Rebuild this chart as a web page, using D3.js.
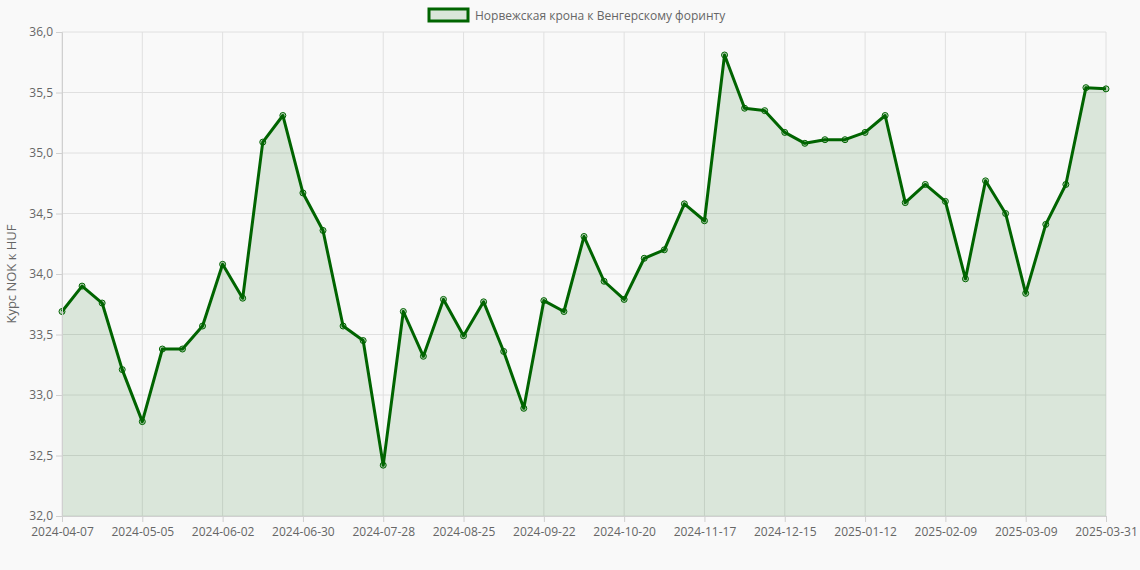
<!DOCTYPE html>
<html><head><meta charset="utf-8">
<script src="https://cdn.jsdelivr.net/npm/d3@7"></script>
<style>body{margin:0;background:#f9f9f9;font-family:"Open Sans","Liberation Sans",Arial,sans-serif}</style>
</head><body><svg id="c" width="1140" height="570"></svg>
<script>
const startDate = "2024-04-07";
const lastDate = "2025-03-31";
const values = [33.69,33.90,33.76,33.21,32.78,33.38,33.38,33.57,34.08,33.80,35.09,35.31,34.67,34.36,33.57,33.45,32.42,33.69,33.32,33.79,33.49,33.77,33.36,32.89,33.78,33.69,34.31,33.94,33.79,34.13,34.20,34.58,34.44,35.81,35.37,35.35,35.17,35.08,35.11,35.11,35.17,35.31,34.59,34.74,34.60,33.96,34.77,34.50,33.84,34.41,34.74,35.54,35.53];
const yTicks = [32,32.5,33,33.5,34,34.5,35,35.5,36];
const seriesName = "Норвежская крона к Венгерскому форинту";
const yTitle = "Курс NOK к HUF";

const fmt = d3.timeFormat("%Y-%m-%d");
const s = d3.timeParse("%Y-%m-%d")(startDate);
const dates = values.map((v,i)=> i===values.length-1 ? lastDate : fmt(d3.timeDay.offset(s,7*i)));

const svg = d3.select("#c");
const L=62,R=1106,T=32,B=516;
const x = d3.scalePoint().domain(dates).range([L,R]);
const y = d3.scaleLinear().domain([32,36]).range([B,T]);
const tickDates = dates.filter((d,i)=> i%4===0 || i===dates.length-1);

const g = svg.append("g");
g.selectAll(".hg").data(yTicks).join("line").attr("x1",L).attr("x2",R)
 .attr("y1",d=>y(d)).attr("y2",d=>y(d)).attr("stroke","#e0e0e0");
g.selectAll(".vg").data(tickDates).join("line").attr("y1",T).attr("y2",B)
 .attr("x1",d=>x(d)).attr("x2",d=>x(d)).attr("stroke","#e0e0e0");

const area = d3.area().x((d,i)=>x(dates[i])).y0(B).y1(d=>y(d));
const line = d3.line().x((d,i)=>x(dates[i])).y(d=>y(d));
g.append("path").datum(values).attr("d",area).attr("fill","rgba(0,100,0,0.12)");
g.append("path").datum(values).attr("d",line).attr("fill","none").attr("stroke","#006400").attr("stroke-width",3).attr("stroke-linejoin","round");
g.selectAll(".pt").data(values).join("circle").attr("cx",(d,i)=>x(dates[i])).attr("cy",d=>y(d))
 .attr("r",3).attr("fill","rgba(0,100,0,0.25)").attr("stroke","#006400").attr("stroke-width",1);

const ya = svg.append("g").attr("transform",`translate(${L},0)`)
 .call(d3.axisLeft(y).tickValues(yTicks).tickFormat(d=>d.toFixed(1).replace(".",",")).tickSize(6));
const xa = svg.append("g").attr("transform",`translate(0,${B})`)
 .call(d3.axisBottom(x).tickValues(tickDates).tickSize(6));
[ya,xa].forEach(a=>{a.selectAll("path,line").attr("stroke","#d0d0d0");
 a.selectAll("text").attr("fill","#666").style("font-size","12px").style("font-family","Open Sans, Liberation Sans, Arial");});
xa.selectAll("text").attr("dy","0.9em");

svg.append("text").attr("transform",`translate(16,${(T+B)/2}) rotate(-90)`).attr("text-anchor","middle")
 .attr("fill","#666").style("font-size","13px").text(yTitle);

svg.append("rect").attr("x",429).attr("y",9).attr("width",39).attr("height",12)
 .attr("fill","rgba(0,100,0,0.12)").attr("stroke","#006400").attr("stroke-width",3);
svg.append("text").attr("x",475).attr("y",19.5).attr("fill","#666").style("font-size","12px").text(seriesName);
</script></body></html>
